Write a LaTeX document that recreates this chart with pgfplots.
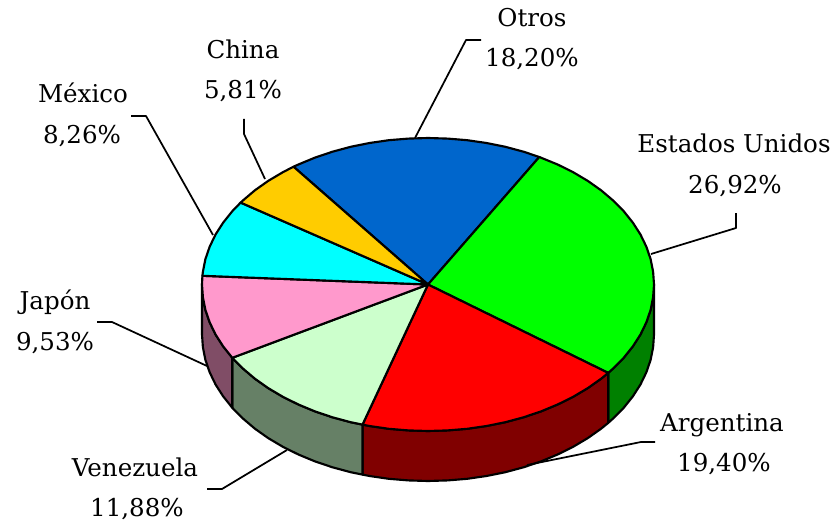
\documentclass[border=0pt]{standalone}
\usepackage{fontspec}
\setmainfont{DejaVu Serif}
\usepackage{pgfplots}
\pgfplotsset{compat=1.18}
\definecolor{cotros}{RGB}{0,102,204}
\definecolor{cusa}{RGB}{0,255,0}
\definecolor{carg}{RGB}{255,0,0}
\definecolor{cven}{RGB}{204,255,204}
\definecolor{cjap}{RGB}{255,153,204}
\definecolor{cmex}{RGB}{0,255,255}
\definecolor{cchi}{RGB}{255,204,0}
\definecolor{dusa}{RGB}{0,128,0}
\definecolor{darg}{RGB}{128,0,0}
\definecolor{dven}{RGB}{102,128,102}
\definecolor{djap}{RGB}{128,77,102}
\newcommand{\lab}[3]{\node[anchor=base,inner sep=0pt] at (axis cs:#1,#2) {\fontsize{18.4}{20}\selectfont #3};}
\begin{document}
\begin{tikzpicture}
\path[use as bounding box] (0,0) rectangle (627.75pt,395.25pt);
\begin{axis}[
    at={(0,0)}, anchor=south west,
    scale only axis, width=627.75pt, height=395.25pt,
    xmin=0, xmax=837, ymin=0, ymax=527,
    y dir=reverse,
    hide axis, clip=false,
    every axis plot/.append style={draw=black, line width=1.6pt, line join=round},
]
% sides of the pie
\addplot[fill=dusa] coordinates {(654,284.5)(653.1,297.3)(650.6,309.9)(646.3,322.4)(640.4,334.6)(632.8,346.4)(623.7,357.8)(613.1,368.5)(608.2,372.9)(608.2,422.9)(613.1,418.5)(623.7,407.8)(632.8,396.4)(640.4,384.6)(646.3,372.4)(650.6,359.9)(653.1,347.3)(654,334.5)} --cycle;
\addplot[fill=darg] coordinates {(608.2,372.9)(601.1,378.7)(587.8,388.1)(573.3,396.7)(557.6,404.5)(541,411.4)(523.5,417.3)(505.3,422.2)(486.5,426)(467.2,428.8)(447.7,430.4)(428,431)(408.3,430.4)(388.8,428.8)(369.5,426)(362.5,424.6)(362.5,474.6)(369.5,476)(388.8,478.8)(408.3,480.4)(428,481)(447.7,480.4)(467.2,478.8)(486.5,476)(505.3,472.2)(523.5,467.3)(541,461.4)(557.6,454.5)(573.3,446.7)(587.8,438.1)(601.1,428.7)(608.2,422.9)} --cycle;
\addplot[fill=dven] coordinates {(362.5,424.6)(350.7,422.2)(332.5,417.3)(315,411.4)(298.4,404.5)(282.7,396.7)(268.2,388.1)(254.9,378.7)(242.9,368.5)(232.3,357.8)(232.3,407.8)(242.9,418.5)(254.9,428.7)(268.2,438.1)(282.7,446.7)(298.4,454.5)(315,461.4)(332.5,467.3)(350.7,472.2)(362.5,474.6)} --cycle;
\addplot[fill=djap] coordinates {(232.3,357.8)(223.2,346.4)(215.6,334.6)(209.7,322.4)(205.4,309.9)(202.9,297.3)(202,284.5)(202,334.5)(202.9,347.3)(205.4,359.9)(209.7,372.4)(215.6,384.6)(223.2,396.4)(232.3,407.8)} --cycle;
% top slices
\addplot[fill=cotros] coordinates {(428,284.5)(539.3,157)(523.5,151.7)(505.3,146.8)(486.5,143)(467.2,140.2)(447.7,138.6)(428,138)(408.3,138.6)(388.8,140.2)(369.5,143)(350.7,146.8)(332.5,151.7)(315,157.6)(298.4,164.5)(293.5,166.7)} --cycle;
\addplot[fill=cusa] coordinates {(428,284.5)(539.3,157)(557.6,164.5)(573.3,172.3)(587.8,180.9)(601.1,190.3)(613.1,200.5)(623.7,211.2)(632.8,222.6)(640.4,234.4)(646.3,246.6)(650.6,259.1)(653.1,271.7)(654,284.5)(653.1,297.3)(650.6,309.9)(646.3,322.4)(640.4,334.6)(632.8,346.4)(623.7,357.8)(613.1,368.5)(608.2,372.9)} --cycle;
\addplot[fill=carg] coordinates {(428,284.5)(608.2,372.9)(601.1,378.7)(587.8,388.1)(573.3,396.7)(557.6,404.5)(541,411.4)(523.5,417.3)(505.3,422.2)(486.5,426)(467.2,428.8)(447.7,430.4)(428,431)(408.3,430.4)(388.8,428.8)(369.5,426)(362.5,424.6)} --cycle;
\addplot[fill=cven] coordinates {(428,284.5)(362.5,424.6)(350.7,422.2)(332.5,417.3)(315,411.4)(298.4,404.5)(282.7,396.7)(268.2,388.1)(254.9,378.7)(242.9,368.5)(232.3,357.8)} --cycle;
\addplot[fill=cjap] coordinates {(428,284.5)(232.3,357.8)(223.2,346.4)(215.6,334.6)(209.7,322.4)(205.4,309.9)(202.9,297.3)(202,284.5)(202.4,275.8)} --cycle;
\addplot[fill=cmex] coordinates {(428,284.5)(202.4,275.8)(202.9,271.7)(205.4,259.1)(209.7,246.6)(215.6,234.4)(223.2,222.6)(232.3,211.2)(240.6,202.6)} --cycle;
\addplot[fill=cchi] coordinates {(428,284.5)(240.6,202.6)(242.9,200.5)(254.9,190.3)(268.2,180.9)(282.7,172.3)(293.5,166.7)} --cycle;
% leader lines
\addplot[line width=1.3pt] coordinates {(651,254)(736,228)(736,213)};
\addplot[line width=1.3pt] coordinates {(415,138)(466,40)(481,40)};
\addplot[line width=1.3pt] coordinates {(265,179)(244,134)(244,119)};
\addplot[line width=1.3pt] coordinates {(213,235)(146,116)(131,116)};
\addplot[line width=1.3pt] coordinates {(207,366)(112,322)(97,322)};
\addplot[line width=1.3pt] coordinates {(287,450)(222,489)(207,489)};
\addplot[line width=1.3pt] coordinates {(527,465)(641,442)(655,442)};
% labels
\lab{734}{153}{Estados Unidos}
\lab{735}{194}{26,92\%}
\lab{532}{27}{Otros}
\lab{532}{67}{18,20\%}
\lab{243}{59}{China}
\lab{243}{99}{5,81\%}
\lab{83}{103}{México}
\lab{82}{144}{8,26\%}
\lab{55}{309}{Japón}
\lab{55}{350}{9,53\%}
\lab{135}{476}{Venezuela}
\lab{137}{516}{11,88\%}
\lab{722}{431}{Argentina}
\lab{724}{471}{19,40\%}
\end{axis}
\end{tikzpicture}
\end{document}
